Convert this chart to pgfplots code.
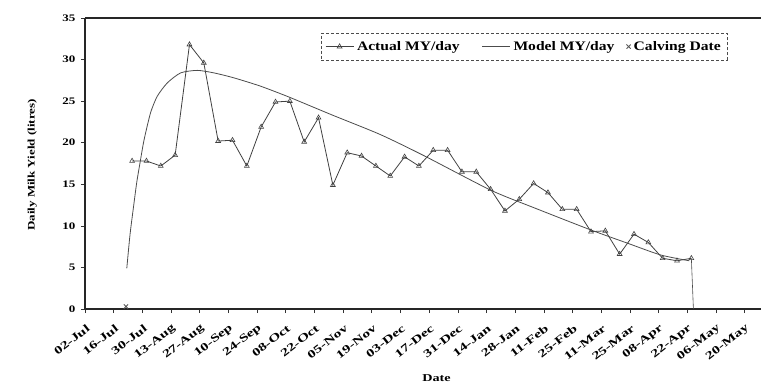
\documentclass[border=0pt]{standalone}
\usepackage{graphicx}
\usepackage{pgfplots}
\pgfplotsset{compat=1.18}
\usepackage{fontspec}
\setmainfont{Liberation Serif}
\newcommand\sx[1]{\scalebox{1.42}[1]{#1}}
\newcommand\sy[1]{\scalebox{1.3}[1]{#1}}
\newcommand\slg[1]{\scalebox{1.2}[1]{#1}}
\begin{document}
\begin{tikzpicture}
\begin{axis}[
  scale only axis,
  width=676pt, height=291pt,
  xmin=0, xmax=330, ymin=0, ymax=35,
  separate axis lines,
  axis x line*=box, axis y line*=left,
  axis line style={line width=1.1pt, black!85},
  xtick pos=bottom, ytick pos=left,
  tick align=outside,
  major tick length=4pt,
  tick style={black!80, line width=0.6pt},
  xtick={0,14,...,322},
  xticklabels={\sx{02-Jul},\sx{16-Jul},\sx{30-Jul},\sx{13-Aug},\sx{27-Aug},\sx{10-Sep},\sx{24-Sep},\sx{08-Oct},\sx{22-Oct},\sx{05-Nov},\sx{19-Nov},\sx{03-Dec},\sx{17-Dec},\sx{31-Dec},\sx{14-Jan},\sx{28-Jan},\sx{11-Feb},\sx{25-Feb},\sx{11-Mar},\sx{25-Mar},\sx{08-Apr},\sx{22-Apr},\sx{06-May},\sx{20-May}},
  xticklabel style={rotate=38, anchor=east, font=\bfseries\fontsize{11}{12}\selectfont, inner sep=1pt, yshift=-13pt, xshift=-5pt},
  ytick={0,5,...,35},
  yticklabel={\sy{\pgfmathprintnumber{\tick}}},
  yticklabel style={font=\bfseries\fontsize{10}{12}\selectfont, xshift=-2pt},
  /pgf/number format/assume math mode=true,
  xlabel={\scalebox{1.35}[1]{Date}}, xlabel style={font=\bfseries\fontsize{10.5}{12}\selectfont, at={(axis description cs:0.52,-0.237)}, anchor=center},
  ylabel={\scalebox{1.3}[1]{Daily Milk Yield (litres)}}, ylabel style={font=\bfseries\fontsize{10}{12}\selectfont, at={(axis description cs:-0.078,0.495)}, anchor=center},
  legend columns=3,
  legend style={at={(0.9497,0.948)}, anchor=north east, draw=black!70, densely dashed,
    font=\bfseries\fontsize{13}{15}\selectfont, inner ysep=6pt, inner xsep=4pt,
    /tikz/column 2/.style={column sep=20pt},
    /tikz/column 4/.style={column sep=10pt},
    /tikz/every odd column/.append style={column sep=1pt}},
  legend cell align=left,
  legend image code/.code={\draw[mark repeat=2,mark phase=2,#1] plot coordinates {(0pt,0pt) (14pt,0pt) (28pt,0pt)};},
  legend image post style={solid},
]
\addplot[black!75, line width=0.8pt, solid, mark=triangle, mark size=2.8pt, mark options={solid, fill=white, line width=0.6pt}]
coordinates {
(23,17.8)(30,17.8)(37,17.2)(44,18.5)(51,31.8)(58,29.6)(65,20.2)(72,20.3)(79,17.2)(86,21.9)
(93,24.9)(100,25.0)(107,20.1)(114,23.0)(121,14.9)(128,18.8)(135,18.4)(142,17.2)(149,16.0)(156,18.3)
(163,17.2)(170,19.1)(177,19.1)(184,16.5)(191,16.5)(198,14.4)(205,11.8)(212,13.2)(219,15.1)(226,14.0)
(233,12.0)(240,12.0)(247,9.3)(254,9.4)(261,6.6)(268,9.0)(275,8.0)(282,6.1)(289,5.8)(296,6.1)
};
\addlegendentry{\slg{Actual MY/day}}
\addplot[black!70, line width=0.8pt, solid, no marks, smooth, tension=0.4]
coordinates {
(20.4,4.9)(22,9.0)(23.9,12.7)(25.3,15.3)(26.8,17.5)(28.8,20.3)(32,23.6)(35.3,25.6)(40.2,27.2)
(46.7,28.4)(54.8,28.7)(62.9,28.4)(72.7,27.8)(85.7,26.8)(99.5,25.5)(120,23.4)(144,21.0)(165,18.5)
(198,14.3)(220,12.1)(247,9.5)(265,7.9)(281,6.5)(295,5.8)
};
\addlegendentry{\slg{Model MY/day}}
\addplot[only marks, mark=x, mark size=3pt, black!65, mark options={solid, line width=0.8pt}]
coordinates {(20,0.3)};
\addlegendentry{\slg{Calving Date}}
\addplot[forget plot, black!70, line width=0.6pt] coordinates {(296,6.1)(297,0)};
\end{axis}
\pgfresetboundingbox
\path[use as bounding box] ([xshift=-85pt,yshift=-79pt]current axis.south west) rectangle ([yshift=18pt]current axis.north east);
\end{tikzpicture}
\end{document}
